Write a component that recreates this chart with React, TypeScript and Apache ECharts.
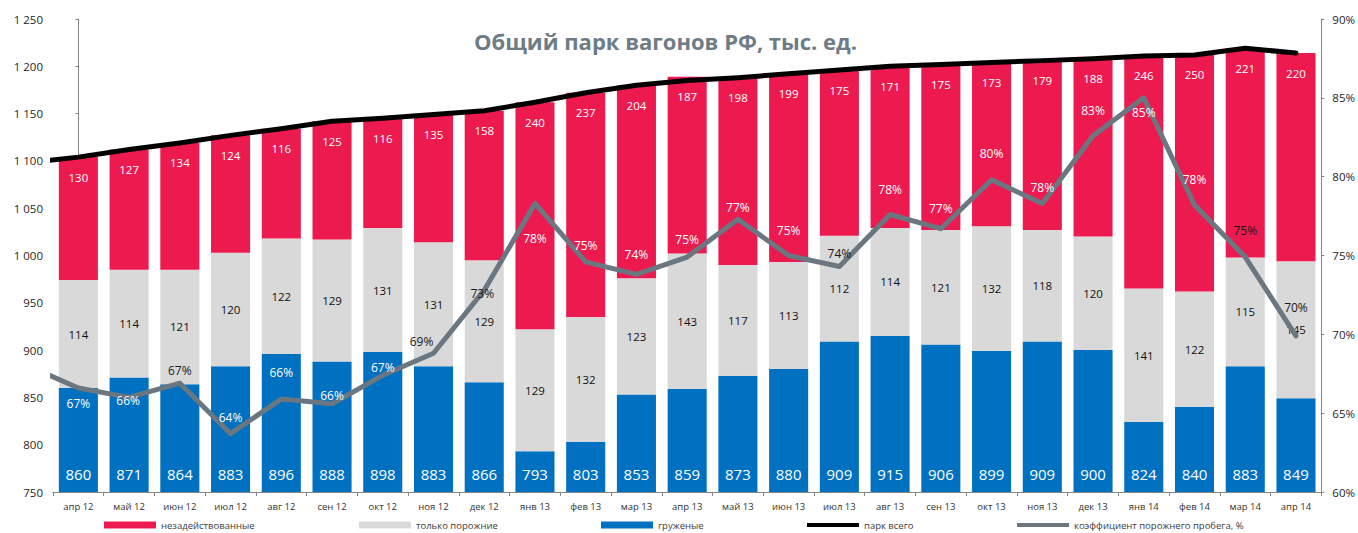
import React, { useEffect, useRef } from "react";
import * as echarts from "echarts";

const categories = [
  "апр 12", "май 12", "июн 12", "июл 12", "авг 12", "сен 12", "окт 12", "ноя 12", "дек 12",
  "янв 13", "фев 13", "мар 13", "апр 13", "май 13", "июн 13", "июл 13", "авг 13", "сен 13",
  "окт 13", "ноя 13", "дек 13", "янв 14", "фев 14", "мар 14", "апр 14",
];
const loaded = [860, 871, 864, 883, 896, 888, 898, 883, 866, 793, 803, 853, 859, 873, 880, 909, 915, 906, 899, 909, 900, 824, 840, 883, 849];
const emptyOnly = [114, 114, 121, 120, 122, 129, 131, 131, 129, 129, 132, 123, 143, 117, 113, 112, 114, 121, 132, 118, 120, 141, 122, 115, 145];
const idle = [130, 127, 134, 124, 116, 125, 116, 135, 158, 240, 237, 204, 187, 198, 199, 175, 171, 175, 173, 179, 188, 246, 250, 221, 220];
const totalPark = [1104, 1112, 1119, 1127, 1134, 1142, 1145, 1149, 1153, 1162, 1172, 1180, 1185, 1188, 1192, 1196, 1200, 1202, 1204, 1206, 1208, 1211, 1212, 1219, 1214];
const emptyRunRatio = [66.6, 66.0, 66.9, 63.7, 65.9, 65.6, 67.4, 68.8, 72.8, 78.3, 74.6, 73.8, 74.9, 77.3, 75.0, 74.3, 77.6, 76.7, 79.8, 78.3, 82.6, 85.0, 78.2, 74.9, 69.9];
// values of the month before the first category (line enters from the left edge)
const prevTotalPark = 1098;
const prevEmptyRunRatio = 68.0;
const leftTicks = { min: 750, max: 1250, interval: 50 };
const rightTicks = { min: 60, max: 90, interval: 5 };

const seriesNames = {
  idle: "незадействованные",
  empty: "только порожние",
  loaded: "груженые",
  total: "парк всего",
  ratio: "коэффициент порожнего пробега, %",
};

// label placement for the ratio line (styling only)
const ratioLabelOffsets: [number, number][] = [
  [0, 16], [-1, 3], [0, -13], [0, -16], [0, -26], [0, -8], [0, -8], [-12, -12], [-2, 3],
  [0, 35], [0, -16], [0, -20], [0, -18], [0, -12], [0, -25], [0, -13], [0, -25], [0, -20],
  [0, -26], [0, -16], [0, -25], [0, 15], [0, -26], [0, -27], [0, -28],
];
const darkRatioLabels = new Set([2, 7, 8, 15, 23, 24]);

const FONT = "'Open Sans', 'Noto Sans', sans-serif";
const RED = "#ED1A4F";
const GREY = "#D9D9D9";
const BLUE = "#0070C0";
const SLATE = "#6A7780";
const AXIS = "#868686";

function fmtThousands(v: number) {
  const s = String(v);
  return s.length > 3 ? s.slice(0, s.length - 3) + " " + s.slice(-3) : s;
}

export default function App() {
  const ref = useRef<HTMLDivElement>(null);
  useEffect(() => {
    const chart = echarts.init(ref.current!, null, { renderer: "svg" });
    const legendBase = {
      top: 520,
      padding: 0,
      itemWidth: 52,
      itemHeight: 7,
      itemGap: 0,
      textStyle: { fontSize: 9.5, color: "#404040", fontFamily: FONT },
      selectedMode: false as const,
    };
    const option: any = {
      animation: false,
      backgroundColor: "#ffffff",
      title: {
        text: "Общий парк вагонов РФ, тыс. ед.",
        left: 474,
        top: 30,
        padding: 0,
        textStyle: { fontSize: 22, fontWeight: "bold", color: "#6E7C86", fontFamily: FONT },
      },
      legend: [
        { ...legendBase, left: 104, data: [{ name: seriesNames.idle, icon: "rect" }] },
        { ...legendBase, left: 359, data: [{ name: seriesNames.empty, icon: "rect" }] },
        { ...legendBase, left: 601, data: [{ name: seriesNames.loaded, icon: "rect" }] },
        { ...legendBase, left: 807, itemHeight: 4, data: [{ name: seriesNames.total, icon: "rect" }] },
        { ...legendBase, left: 1017, itemHeight: 4, data: [{ name: seriesNames.ratio, icon: "rect" }] },
      ],
      grid: { left: 53, right: 36, top: 19, bottom: 41 },
      xAxis: [
        {
          type: "category",
          data: categories,
          axisLine: { lineStyle: { color: AXIS } },
          axisTick: { show: true, length: 4, interval: 0, lineStyle: { color: AXIS } },
          axisLabel: { interval: 0, fontSize: 9.5, color: "#333333", fontFamily: FONT, margin: 9 },
        },
        {
          type: "value",
          min: -0.5,
          max: categories.length - 0.5,
          show: false,
        },
      ],
      yAxis: [
        {
          type: "value",
          ...leftTicks,
          axisLine: { show: true, lineStyle: { color: AXIS } },
          axisTick: { show: true, length: 3, lineStyle: { color: AXIS } },
          splitLine: { show: false },
          axisLabel: {
            fontSize: 11.5,
            color: "#262626",
            fontFamily: FONT,
            margin: 10,
            formatter: (v: number) => fmtThousands(v),
          },
        },
        {
          type: "value",
          position: "right",
          ...rightTicks,
          axisLine: { show: true, lineStyle: { color: AXIS } },
          axisTick: { show: true, length: 3, lineStyle: { color: AXIS } },
          splitLine: { show: false },
          axisLabel: { fontSize: 11.5, color: "#262626", fontFamily: FONT, margin: 11, formatter: "{value}%" },
        },
      ],
      series: [
        {
          name: seriesNames.loaded,
          type: "bar",
          stack: "park",
          data: loaded,
          barCategoryGap: "23%",
          itemStyle: { color: BLUE },
          label: {
            show: true,
            position: "insideBottom",
            distance: 11,
            color: "#ffffff",
            fontSize: 15,
            fontFamily: FONT,
          },
          z: 2,
        },
        {
          name: seriesNames.empty,
          type: "bar",
          stack: "park",
          data: emptyOnly,
          itemStyle: { color: GREY },
          label: { show: true, position: "inside", color: "#111111", fontSize: 11.5, fontFamily: FONT },
          z: 2,
        },
        {
          name: seriesNames.idle,
          type: "bar",
          stack: "park",
          data: idle,
          itemStyle: { color: RED },
          label: {
            show: true,
            position: "insideTop",
            distance: 14,
            color: "#ffffff",
            fontSize: 11.5,
            fontFamily: FONT,
          },
          z: 2,
        },
        {
          name: seriesNames.total,
          type: "line",
          xAxisIndex: 1,
          yAxisIndex: 0,
          data: [[-1, prevTotalPark], ...totalPark.map((v, i) => [i, v])],
          symbol: "none",
          lineStyle: { color: "#000000", width: 5, cap: "round", join: "round" },
          itemStyle: { color: "#000000" },
          clip: true,
          z: 4,
        },
        {
          name: seriesNames.ratio,
          type: "line",
          xAxisIndex: 1,
          yAxisIndex: 1,
          data: [
            { value: [-1, prevEmptyRunRatio], label: { show: false } },
            ...emptyRunRatio.map((v, i) => ({
              value: [i, v],
              label: {
                show: true,
                position: "inside",
                color: darkRatioLabels.has(i) ? "#1A1A1A" : "#ffffff",
                formatter: Math.round(v) + "%",
              },
            })),
          ],
          symbol: "circle",
          symbolSize: 1,
          showSymbol: true,
          showAllSymbol: true,
          itemStyle: { color: SLATE },
          lineStyle: { color: SLATE, width: 5, cap: "round", join: "round" },
          label: { show: true, fontSize: 12, fontFamily: FONT },
          labelLayout: (params: any) => {
            const o = ratioLabelOffsets[params.dataIndex - 1] || [0, 0];
            return { dx: o[0], dy: o[1], hideOverlap: false };
          },
          clip: true,
          z: 5,
        },
      ],
    };
    chart.setOption(option);
    return () => chart.dispose();
  }, []);
  return (
    <div
      ref={ref}
      style={{ position: "fixed", left: 0, top: 0, width: 1358, height: 533 }}
    />
  );
}
